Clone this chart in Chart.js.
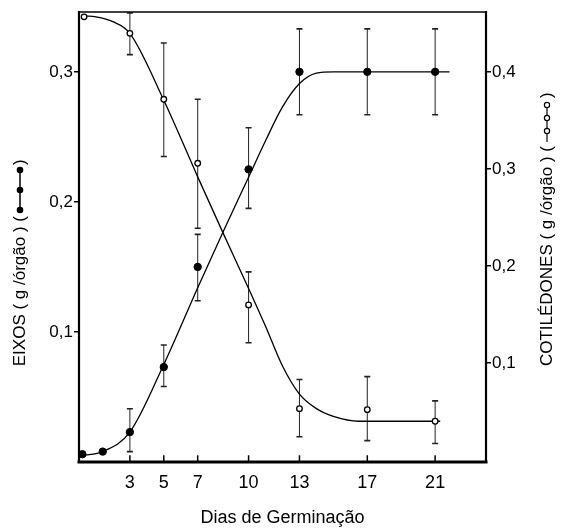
<!DOCTYPE html>
<html><head><meta charset="utf-8">
<script src="https://cdn.jsdelivr.net/npm/chart.js@4/dist/chart.umd.min.js"></script>
<style>html,body{margin:0;padding:0;background:#fff}#wrap{width:561px;height:530px}</style>
</head><body><div id="wrap"><canvas id="c" width="561" height="530"></canvas></div>
<script>
// ---- data ----
const eixosDays    = [0.2, 1.4, 3, 5, 7, 10, 13, 17, 21];
const eixosValues  = [0.006, 0.008, 0.023, 0.073, 0.150, 0.225, 0.300, 0.300, 0.300];
const eixosErrLow  = [null, null, 0.008, 0.058, 0.124, 0.195, 0.267, 0.267, 0.267];
const eixosErrHigh = [null, null, 0.041, 0.090, 0.175, 0.257, 0.333, 0.333, 0.333];

const cotDays    = [0.3, 3, 5, 7, 10, 13, 17, 21];
const cotValues  = [0.457, 0.440, 0.372, 0.306, 0.160, 0.053, 0.052, 0.040];
const cotErrLow  = [null, 0.418, 0.313, 0.239, 0.121, 0.024, 0.020, 0.017];
const cotErrHigh = [null, 0.461, 0.430, 0.372, 0.194, 0.083, 0.086, 0.061];

// fitted curves as drawn in the reference
const eixosCurveX = [0.2, 1.4, 3, 5, 7, 8.5, 10, 11, 12, 13, 14, 15, 21.85];
const eixosCurveY = [0.005, 0.008, 0.023, 0.075, 0.134, 0.177, 0.219, 0.247, 0.273, 0.291, 0.299, 0.300, 0.300];
const cotCurveX = [0.3, 1, 2, 3, 5, 7, 8.5, 10, 11, 12, 13, 14, 15, 16.5, 21.3];
const cotCurveY = [0.458, 0.457, 0.452, 0.440, 0.371, 0.292, 0.234, 0.177, 0.138, 0.097, 0.068, 0.053, 0.045, 0.040, 0.040];

const xTicks = [3, 5, 7, 10, 13, 17, 21];
const leftTicks = [0.1, 0.2, 0.3];
const rightTicks = [0.1, 0.2, 0.3, 0.4];

const xTitle = 'Dias de Germinação';
const leftTitle = ['EIXOS ( g /órgão ) (', ')'];
const rightTitle = ['COTILÉDONES ( g /órgão ) (', ')'];

const FONT = '"Liberation Sans", Arial, sans-serif';
const pts = (xs, ys) => xs.map((x, i) => ({x: x, y: ys[i]}));
const fmt = v => Number(v).toFixed(1).replace('.', ',');

const errorBars = {
  id: 'errorBars',
  beforeDatasetsDraw(chart) {
    const ctx = chart.ctx, x = chart.scales.x;
    const sets = [
      [eixosDays, eixosErrLow, eixosErrHigh, chart.scales.y],
      [cotDays, cotErrLow, cotErrHigh, chart.scales.y2]
    ];
    ctx.save();
    ctx.strokeStyle = '#222';
    sets.forEach(([days, lo, hi, ys]) => {
      days.forEach((d, i) => {
        if (lo[i] == null) return;
        const px = x.getPixelForValue(d);
        const y1 = ys.getPixelForValue(lo[i]), y2 = ys.getPixelForValue(hi[i]);
        ctx.lineWidth = 1;
        ctx.beginPath(); ctx.moveTo(px, y1); ctx.lineTo(px, y2); ctx.stroke();
        ctx.lineWidth = 1.6;
        ctx.beginPath();
        ctx.moveTo(px - 3, y1); ctx.lineTo(px + 3, y1);
        ctx.moveTo(px - 3, y2); ctx.lineTo(px + 3, y2);
        ctx.stroke();
      });
    });
    ctx.restore();
  }
};

const frame = {
  id: 'frame',
  afterDraw(chart) {
    const ctx = chart.ctx, a = chart.chartArea, x = chart.scales.x;
    ctx.save();
    ctx.strokeStyle = '#000';
    ctx.lineCap = 'square';
    ctx.lineWidth = 1.6;
    ctx.beginPath(); ctx.moveTo(a.left, a.top); ctx.lineTo(a.right, a.top); ctx.stroke();
    ctx.lineWidth = 2.2;
    ctx.beginPath(); ctx.moveTo(a.left, a.top); ctx.lineTo(a.left, a.bottom); ctx.stroke();
    ctx.beginPath(); ctx.moveTo(a.right, a.top); ctx.lineTo(a.right, a.bottom); ctx.stroke();
    ctx.lineWidth = 3;
    ctx.beginPath(); ctx.moveTo(a.left, a.bottom); ctx.lineTo(a.right, a.bottom); ctx.stroke();
    ctx.lineWidth = 1.5;
    xTicks.forEach(v => {
      const px = x.getPixelForValue(v);
      ctx.beginPath(); ctx.moveTo(px, a.bottom); ctx.lineTo(px, a.bottom - 6); ctx.stroke();
    });
    ctx.restore();
  }
};

const yTitles = {
  id: 'yTitles',
  afterDraw(chart) {
    const ctx = chart.ctx;
    ctx.save();
    ctx.fillStyle = '#000'; ctx.strokeStyle = '#000';
    ctx.font = '17px ' + FONT;
    ctx.textBaseline = 'middle';
    // left title
    ctx.save();
    ctx.translate(20, 0); ctx.rotate(-Math.PI / 2);
    ctx.textAlign = 'right'; ctx.fillText(leftTitle[0], -216, 0);
    ctx.textAlign = 'left'; ctx.fillText(leftTitle[1], -165, 0);
    ctx.restore();
    ctx.lineWidth = 1.5;
    ctx.beginPath(); ctx.moveTo(20, 168); ctx.lineTo(20, 212); ctx.stroke();
    [170, 190, 210].forEach(yy => { ctx.beginPath(); ctx.arc(20, yy, 3.3, 0, Math.PI * 2); ctx.fill(); });
    // right title
    ctx.save();
    ctx.translate(547, 0); ctx.rotate(-Math.PI / 2);
    ctx.textAlign = 'right'; ctx.fillText(rightTitle[0], -146, 0);
    ctx.textAlign = 'left'; ctx.fillText(rightTitle[1], -98, 0);
    ctx.restore();
    ctx.lineWidth = 1.2;
    ctx.beginPath(); ctx.moveTo(547, 102); ctx.lineTo(547, 142); ctx.stroke();
    [105, 118, 131].forEach(yy => {
      ctx.beginPath(); ctx.arc(547, yy, 2.6, 0, Math.PI * 2);
      ctx.fillStyle = '#fff'; ctx.fill(); ctx.stroke();
    });
    ctx.restore();
  }
};

new Chart(document.getElementById('c'), {
  type: 'scatter',
  data: {
    datasets: [
      {label: 'Eixos', data: pts(eixosDays, eixosValues), yAxisID: 'y', showLine: false,
       pointRadius: 3.7, pointBackgroundColor: '#000', pointBorderColor: '#000', pointBorderWidth: 1, order: 1},
      {label: 'Cotilédones', data: pts(cotDays, cotValues), yAxisID: 'y2', showLine: false,
       pointRadius: 2.8, pointBackgroundColor: '#fff', pointBorderColor: '#000', pointBorderWidth: 1.3, order: 1},
      {type: 'line', label: 'Eixos curva', data: pts(eixosCurveX, eixosCurveY), yAxisID: 'y',
       borderColor: '#000', borderWidth: 1.3, pointRadius: 0, fill: false, cubicInterpolationMode: 'monotone', order: 3},
      {type: 'line', label: 'Cot curva', data: pts(cotCurveX, cotCurveY), yAxisID: 'y2',
       borderColor: '#000', borderWidth: 1.3, pointRadius: 0, fill: false, cubicInterpolationMode: 'monotone', order: 3}
    ]
  },
  options: {
    responsive: false, animation: false, devicePixelRatio: 1,
    layout: {padding: {top: 12, left: 0, right: 0, bottom: 0}},
    plugins: {legend: {display: false}, tooltip: {enabled: false}},
    scales: {
      x: {
        type: 'linear', position: 'bottom', min: 0, max: 24,
        afterBuildTicks: s => { s.ticks = xTicks.map(v => ({value: v})); },
        afterFit: s => { s.height = 68; },
        grid: {display: false}, border: {display: false},
        ticks: {autoSkip: false, maxRotation: 0, padding: 2, color: '#000',
                font: {family: FONT, size: 18}, callback: v => String(v)},
        title: {display: true, text: xTitle, color: '#000', font: {family: FONT, size: 18}, padding: {top: 0, bottom: 1}}
      },
      y: {
        type: 'linear', position: 'left', min: 0, max: 0.346,
        afterBuildTicks: s => { s.ticks = leftTicks.map(v => ({value: v})); },
        afterFit: s => { s.width = 79; },
        grid: {display: true, drawOnChartArea: false, drawTicks: true, tickLength: 5, color: '#000', lineWidth: 1.5},
        border: {display: false},
        ticks: {padding: 1, color: '#000', font: {family: FONT, size: 17}, callback: fmt}
      },
      y2: {
        type: 'linear', position: 'right', min: -0.002, max: 0.462,
        afterBuildTicks: s => { s.ticks = rightTicks.map(v => ({value: v})); },
        afterFit: s => { s.width = 75; },
        grid: {display: true, drawOnChartArea: false, drawTicks: true, tickLength: 5, color: '#000', lineWidth: 1.5},
        border: {display: false},
        ticks: {padding: 1, color: '#000', font: {family: FONT, size: 17}, callback: fmt}
      }
    }
  },
  plugins: [errorBars, frame, yTitles]
});
</script>
</body></html>
